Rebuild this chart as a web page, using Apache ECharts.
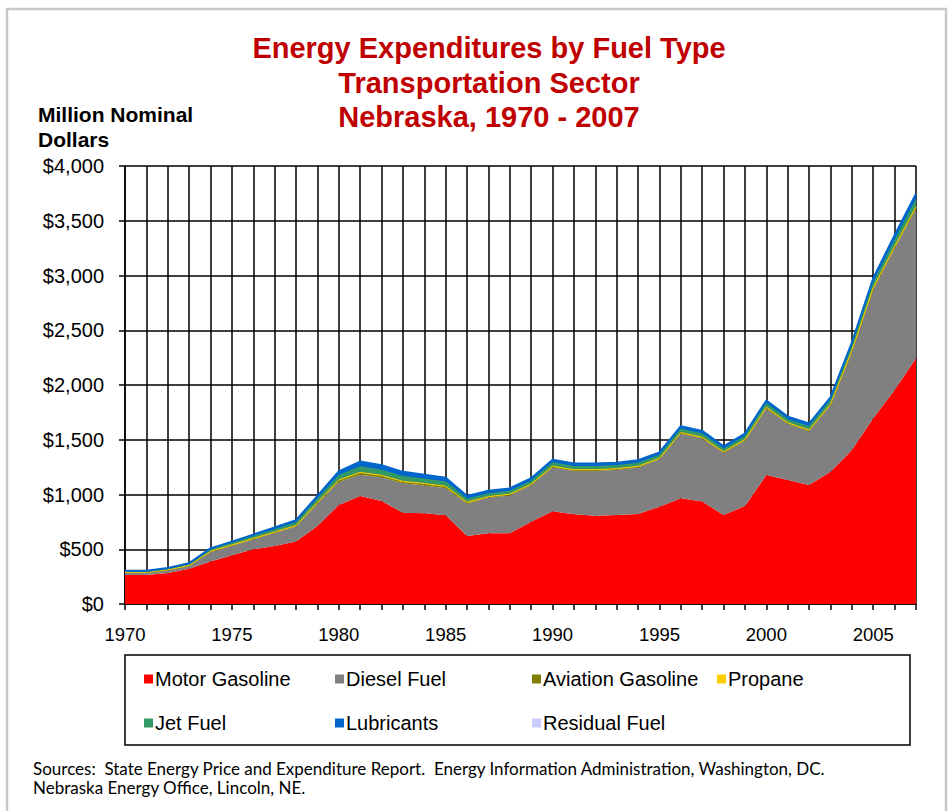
<!DOCTYPE html>
<html>
<head>
<meta charset="utf-8">
<title>Energy Expenditures by Fuel Type - Transportation Sector - Nebraska</title>
<script src="https://cdn.jsdelivr.net/npm/echarts@6/dist/echarts.min.js"></script>
<style>
  html, body { margin: 0; padding: 0; background: #ffffff; }
  #chart { width: 950px; height: 811px; }
</style>
</head>
<body>
<div id="chart"></div>
<script>
// Years on the horizontal axis
const years = ['1970','1971','1972','1973','1974','1975','1976','1977','1978','1979',
  '1980','1981','1982','1983','1984','1985','1986','1987','1988','1989',
  '1990','1991','1992','1993','1994','1995','1996','1997','1998','1999',
  '2000','2001','2002','2003','2004','2005','2006','2007'];

// Expenditures, million nominal dollars
const motorGasoline = [265,265,283,322,388,445,500,530,570,712,
  904,986,940,834,828,810,621,645,645,752,
  848,819,807,813,822,889,965,935,813,895,
  1178,1132,1087,1208,1406,1696,1954,2244];
const dieselFuel = [20,19,25,26,87,87,90,118,135,203,
  211,194,215,268,255,248,295,325,347,332,
  398,396,408,412,424,430,590,575,567,595,
  606,512,490,605,895,1175,1290,1360];
const aviationGasoline = [3,3,3,3,4,5,6,7,8,10,
  13,16,14,13,12,12,9,8,8,8,
  9,8,8,8,8,8,8,9,7,8,
  9,8,8,9,10,12,14,16];
const propane = [1,1,1,1,2,2,2,2,3,3,
  4,6,6,5,5,5,4,3,3,3,
  3,3,3,3,3,3,3,3,3,3,
  4,3,4,4,4,5,6,7];
const jetFuel = [8,8,9,11,14,16,18,21,25,30,
  40,50,46,44,40,39,28,26,25,26,
  30,29,29,27,28,27,29,30,24,28,
  31,28,30,31,37,44,53,62];
const lubricants = [7,7,8,10,13,15,18,20,24,29,
  39,49,46,43,41,40,30,27,27,28,
  29,29,29,27,28,27,29,29,25,28,
  30,28,29,30,36,43,51,59];
const residualFuel = [1,1,1,1,2,2,2,2,2,3,
  4,4,3,3,2,2,1,1,1,1,
  1,1,1,1,1,1,1,1,1,1,
  1,1,1,1,1,1,1,1];

// Value axis ticks
const yMin = 0, yMax = 4000, yStep = 500;

const seriesDefs = [
  { name: 'Motor Gasoline',    data: motorGasoline,    color: '#FF0000', line: 0 },
  { name: 'Diesel Fuel',       data: dieselFuel,       color: '#808080', line: 0 },
  { name: 'Aviation Gasoline', data: aviationGasoline, color: '#808000', line: 1 },
  { name: 'Propane',           data: propane,          color: '#FFCC00', line: 1 },
  { name: 'Jet Fuel',          data: jetFuel,          color: '#339966', line: 1.2 },
  { name: 'Lubricants',        data: lubricants,       color: '#0066CC', line: 2 },
  { name: 'Residual Fuel',     data: residualFuel,     color: '#CCCCFF', line: 0 }
];

// Legend entries placed in a two-row box
const legendSlots = [
  { name: 'Motor Gasoline',    left: 139, top: 664 },
  { name: 'Diesel Fuel',       left: 330, top: 664 },
  { name: 'Aviation Gasoline', left: 527, top: 664 },
  { name: 'Propane',           left: 712, top: 664 },
  { name: 'Jet Fuel',          left: 139, top: 708 },
  { name: 'Lubricants',        left: 330, top: 708 },
  { name: 'Residual Fuel',     left: 527, top: 708 }
];

const baseFont = '"Liberation Sans", Arial, sans-serif';
const noteFont = '17px Lato, "Open Sans", sans-serif';

function money(v) {
  return '$' + String(v).replace(/\B(?=(\d{3})+(?!\d))/g, ',');
}

const chart = echarts.init(document.getElementById('chart'), null, { renderer: 'svg' });

chart.setOption({
  backgroundColor: '#ffffff',
  animation: false,
  grid: { left: 125, right: 34, top: 166, bottom: 207, containLabel: false },
  xAxis: {
    type: 'category',
    data: years,
    boundaryGap: false,
    axisLine: { show: true, lineStyle: { color: '#000', width: 1.5 } },
    axisTick: { show: true, interval: 0, length: 6, lineStyle: { color: '#000', width: 1.5 } },
    axisLabel: { interval: 4, color: '#000', fontSize: 18.5, fontFamily: baseFont, margin: 21 },
    splitLine: { show: true, interval: 0, lineStyle: { color: '#000', width: 1.5 } }
  },
  yAxis: {
    type: 'value',
    min: yMin, max: yMax, interval: yStep,
    axisLine: { show: true, lineStyle: { color: '#000', width: 1.5 } },
    axisTick: { show: true, length: 6, lineStyle: { color: '#000', width: 1.5 } },
    axisLabel: { color: '#000', fontSize: 20, fontFamily: baseFont, margin: 21, formatter: money },
    splitLine: { show: true, lineStyle: { color: '#000', width: 1.5 } }
  },
  legend: legendSlots.map(s => ({
    data: [s.name],
    left: s.left, top: s.top,
    icon: 'rect', itemWidth: 9, itemHeight: 9, itemGap: 0,
    selectedMode: false,
    textStyle: { color: '#000', fontSize: 20, fontFamily: baseFont, padding: [0, 0, 0, -3] }
  })),
  series: seriesDefs.map(d => ({
    name: d.name,
    type: 'line',
    stack: 'total',
    data: d.data,
    showSymbol: false,
    symbol: 'none',
    color: d.color,
    lineStyle: { width: d.line, color: d.color },
    areaStyle: { color: d.color, opacity: 1 },
    emphasis: { disabled: true }
  })),
  graphic: [
    { type: 'rect', silent: true, z: -10,
      shape: { x: 7, y: 9, width: 939, height: 830 },
      style: { fill: 'none', stroke: '#c8c8c8', lineWidth: 2.5 } },
    { type: 'rect', silent: true,
      shape: { x: 125, y: 655, width: 785, height: 90 },
      style: { fill: 'none', stroke: '#000', lineWidth: 1.5 } },
    { type: 'text', silent: true, x: 489, y: 48,
      style: { text: 'Energy Expenditures by Fuel Type', fill: '#C00000',
        font: 'bold 29px ' + baseFont, textAlign: 'center', textVerticalAlign: 'middle' } },
    { type: 'text', silent: true, x: 489, y: 83,
      style: { text: 'Transportation Sector', fill: '#C00000',
        font: 'bold 29px ' + baseFont, textAlign: 'center', textVerticalAlign: 'middle' } },
    { type: 'text', silent: true, x: 489, y: 117,
      style: { text: 'Nebraska, 1970 - 2007', fill: '#C00000',
        font: 'bold 29px ' + baseFont, textAlign: 'center', textVerticalAlign: 'middle' } },
    { type: 'text', silent: true, x: 38, y: 114,
      style: { text: 'Million Nominal', fill: '#000',
        font: 'bold 21px ' + baseFont, textAlign: 'left', textVerticalAlign: 'middle' } },
    { type: 'text', silent: true, x: 38, y: 139,
      style: { text: 'Dollars', fill: '#000',
        font: 'bold 21px ' + baseFont, textAlign: 'left', textVerticalAlign: 'middle' } },
    { type: 'text', silent: true, x: 33, y: 768,
      style: { text: 'Sources:  State Energy Price and Expenditure Report.  Energy Information Administration, Washington, DC.',
        fill: '#000', font: noteFont, textAlign: 'left', textVerticalAlign: 'middle' } },
    { type: 'text', silent: true, x: 33, y: 787,
      style: { text: 'Nebraska Energy Office, Lincoln, NE.',
        fill: '#000', font: noteFont, textAlign: 'left', textVerticalAlign: 'middle' } }
  ]
});
</script>
</body>
</html>
